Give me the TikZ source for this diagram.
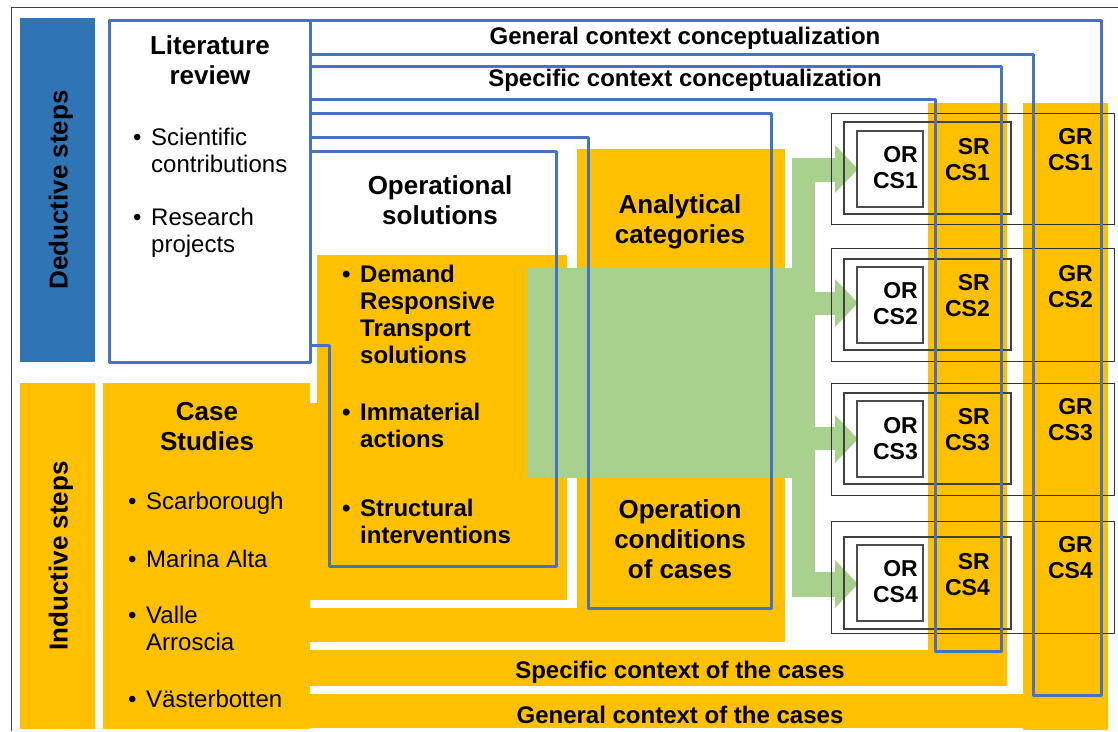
\documentclass[tikz,border=0pt]{standalone}
\usepackage{fontspec}
\setmainfont{Liberation Sans}
\definecolor{myyellow}{HTML}{FFC000}
\definecolor{mygreen}{HTML}{A9D18E}
\definecolor{lineblue}{HTML}{4472C4}
\definecolor{dedblue}{HTML}{2E75B6}
\newcommand\mybul{\makebox[18pt][l]{•}}
\newcommand\myind{\hspace*{18pt}}
\begin{document}
\begin{tikzpicture}[x=1pt,y=-1pt,
  yel/.style={fill=myyellow},
  grn/.style={fill=mygreen},
  loopline/.style={draw=lineblue,line width=3pt,line join=round},
  ttl/.style={font=\bfseries\fontsize{26}{30}\selectfont,align=center,inner sep=0pt},
  lbl/.style={font=\bfseries\fontsize{24}{27}\selectfont,inner sep=0pt},
  itm/.style={font=\fontsize{24}{27}\selectfont,align=left,anchor=west,inner sep=0pt},
  bitm/.style={font=\bfseries\fontsize{24}{27}\selectfont,align=left,anchor=west,inner sep=0pt},
  cslbl/.style={font=\bfseries\fontsize{23}{26}\selectfont,align=right,anchor=east,inner sep=0pt},
  sidelbl/.style={font=\bfseries\fontsize{26}{30}\selectfont,rotate=90,inner sep=0pt},
  outerbox/.style={draw=black!80,line width=1pt},
  midbox/.style={draw=black!75,line width=1.3pt},
  orbox/.style={draw=black!70,fill=white,line width=1.3pt}
]
\useasboundingbox (0,0) rectangle (1118,731);
\fill[white] (0,0) rectangle (1118,731);
% frame
\draw[black!75,line width=1pt] (11,731) -- (11,7) -- (1118,7);
% side boxes
\fill[dedblue] (20,18) rectangle (95,362);
\fill[myyellow] (20,383) rectangle (95,729);
% yellow areas
\fill[yel] (103,383) rectangle (310,729);
\fill[yel] (317,255) rectangle (567,600);
\fill[yel] (309,403) rectangle (318,600);
\fill[yel] (309,608) rectangle (785,642);
\fill[yel] (577,149) rectangle (785,642);
\fill[yel] (309,650) rectangle (1007,686);
\fill[yel] (928,103) rectangle (1007,686);
\fill[yel] (309,694) rectangle (1108,728);
\fill[yel] (1023,103) rectangle (1108,730);
% green flow
\fill[grn] (527,268) rectangle (815,478);
\fill[grn] (792,158) rectangle (815,597);
\foreach \a/\b/\c/\d/\p in {158/182/145/193/169, 292/315/279/327/303, 427/450/415/463/439, 572/597/560/608/584}{
  \fill[grn] (792,\a) rectangle (836,\b);
  \fill[grn] (835,\c) -- (858,\p) -- (835,\d) -- cycle;
}
% literature box
\draw[loopline,fill=white] (109,20) rectangle (310,362);
% result boxes
\foreach \i/\oa/\ob/\ma/\mb/\ia/\ib/\orc/\src/\grc in {
  1/113/224/122/214/131/207/168/160/150,
  2/248/361/259/350/267/343/304/296/287,
  3/383/495/393/484/401/477/439/430/420,
  4/521/633/537/629/545/621/582/575/558}{
  \draw[outerbox] (831,\oa) rectangle (1114,\ob);
  \draw[midbox] (844,\ma) rectangle (1011,\mb);
  \draw[orbox] (857,\ia) rectangle (923,\ib);
  \node[cslbl] (or\i) at (918,\orc) {OR\\CS\i};
  \node[cslbl] (sr\i) at (990,\src) {SR\\CS\i};
  \node[cslbl] (gr\i) at (1093,\grc) {GR\\CS\i};
}
% blue loops
\draw[loopline] (310,54) -- (1033,54) -- (1033,695) -- (1101,695) -- (1101,20) -- (310,20);
\draw[loopline] (310,99) -- (935,99) -- (935,651) -- (1001,651) -- (1001,66) -- (310,66);
\draw[loopline] (310,137) -- (588,137) -- (588,608) -- (771,608) -- (771,113) -- (310,113);
\draw[loopline] (310,345) -- (329,345) -- (329,566) -- (556,566) -- (556,151) -- (310,151);
% texts
\node[ttl] (litt) at (210,60) {Literature\\review};
\node[itm] (sci) at (133,150) {\mybul Scientific\\\myind contributions};
\node[itm] (res) at (133,233) {\mybul Research\\\myind projects};
\node[ttl] (ops) at (440,200) {Operational\\solutions};
\node[ttl] (anc) at (680,222) {Analytical\\categories};
\node[bitm] (drt) at (342,314) {\mybul Demand\\\myind Responsive\\\myind Transport\\\myind solutions};
\node[bitm] (imm) at (342,425) {\mybul Immaterial\\\myind actions};
\node[bitm] (str) at (342,521) {\mybul Structural\\\myind interventions};
\node[ttl] (occ) at (680,539) {Operation\\conditions\\of cases};
\node[ttl] (cst) at (207,427) {Case\\Studies};
\node[itm] (sca) at (128,503) {\mybul Scarborough};
\node[itm] (mar) at (128,559) {\mybul Marina Alta};
\node[itm] (val) at (128,628) {\mybul Valle\\\myind Arroscia};
\node[itm] (vas) at (128,699) {\mybul Västerbotten};
\node[lbl] (gcc) at (685,38) {General context conceptualization};
\node[lbl] (scc) at (685,80) {Specific context conceptualization};
\node[lbl] (scx) at (680,672) {Specific context of the cases};
\node[lbl] (gcx) at (680,715) {General context of the cases};
\node[sidelbl] (ded) at (61,190) {Deductive steps};
\node[sidelbl] (ind) at (61,556) {Inductive steps};
\end{tikzpicture}
\end{document}
